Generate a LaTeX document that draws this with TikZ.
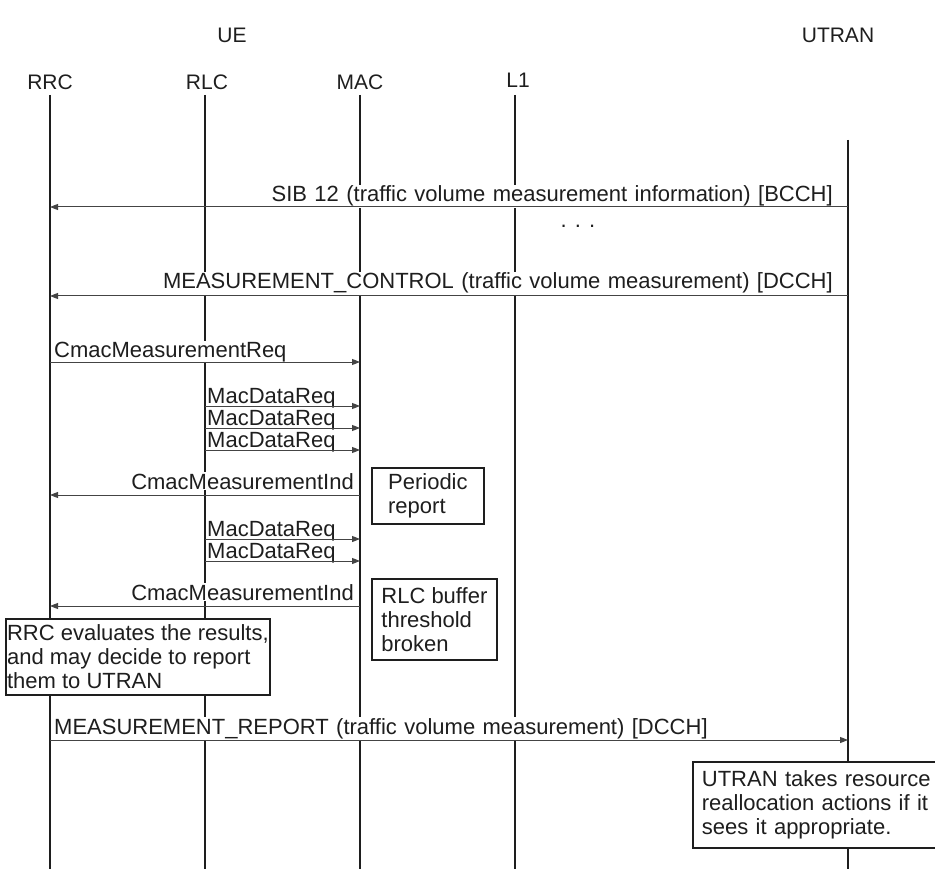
\documentclass[tikz,border=0pt]{standalone}
\usepackage{fontspec}
\setmainfont{Liberation Sans}
\usetikzlibrary{arrows.meta}
\definecolor{ink}{HTML}{1E1E1E}
\definecolor{wire}{HTML}{444444}
\begin{document}
\begin{tikzpicture}[x=1pt,y=-1pt,
  every node/.style={font=\fontsize{22}{24}\selectfont, text=ink},
  head/.style={font=\fontsize{21}{24}\selectfont},
  lifeline/.style={draw=ink, line width=2.6pt},
  msg/.style={draw=wire, line width=1pt, -{Triangle[length=8pt,width=6pt]}},
  lbl/.style={fill=white, inner xsep=1pt, inner ysep=1pt,
              execute at begin node={\spaceskip=7.4pt plus 1pt}},
  note/.style={draw=ink, line width=1.8pt, fill=white, align=left,
               anchor=north west, inner ysep=0pt, inner xsep=0pt}]
\useasboundingbox (0,0) rectangle (935,869);

% lifeline x positions
\def\xRRC{50}\def\xRLC{205}\def\xMAC{360}\def\xLI{515}\def\xUT{848}

% entity headers
\node[head] (ue) at (232,35) {UE};
\node[head] (utran) at (838,35) {UTRAN};
\node[head] (rrc) at (\xRRC,82) {RRC};
\node[head] (rlc) at (207,82) {RLC};
\node[head] (mac) at (\xMAC,82) {MAC};
\node[head] (l1) at (518,80) {L1};

% lifelines
\foreach \n/\x/\t in {rrc/\xRRC/95, rlc/\xRLC/95, mac/\xMAC/95, l1/\xLI/95, ut/\xUT/140} {
  \coordinate (\n-top) at (\x,\t);
  \coordinate (\n-bot) at (\x,875);
  \draw[lifeline] (\n-top) -- (\n-bot);
}

% message end points
\coordinate (sib-a) at (\xUT,207);  \coordinate (sib-b) at (\xRRC,207);
\coordinate (mc-a)  at (\xUT,296);  \coordinate (mc-b)  at (\xRRC,296);
\coordinate (req-a) at (\xRRC,362); \coordinate (req-b) at (\xMAC,362);
\foreach \k/\y in {1/406, 2/428, 3/450, 4/539, 5/561} {
  \coordinate (dr\k-a) at (\xRLC,\y); \coordinate (dr\k-b) at (\xMAC,\y);
}
\coordinate (ind1-a) at (\xMAC,495); \coordinate (ind1-b) at (\xRRC,495);
\coordinate (ind2-a) at (\xMAC,606); \coordinate (ind2-b) at (\xRRC,606);
\coordinate (rep-a)  at (\xRRC,740); \coordinate (rep-b)  at (\xUT,740);

% message labels
\node[lbl, anchor=base east] (sib-l) at (834,202)
  {SIB 12 (traffic volume measurement information) [BCCH]};
\node (dots) at (578,226) {. . .};
\node[lbl, anchor=base east] (mc-l) at (834,289)
  {MEASUREMENT\_CONTROL (traffic volume measurement) [DCCH]};
\node[lbl, anchor=base west] (req-l) at (53,357) {CmacMeasurementReq};
\foreach \k/\y in {1/406, 2/428, 3/450, 4/539, 5/561} {
  \node[anchor=base west, inner sep=0pt] (dr\k-l) at (207,\y-3) {MacDataReq};
}
\node[lbl, anchor=base east] (ind1-l) at (355,489) {CmacMeasurementInd};
\node[lbl, anchor=base east] (ind2-l) at (355,600) {CmacMeasurementInd};
\node[lbl, anchor=base west] (rep-l) at (53,734)
  {MEASUREMENT\_REPORT (traffic volume measurement) [DCCH]};

% messages
\draw[msg] (sib-a) -- (sib-b);
\draw[msg] (mc-a) -- (mc-b);
\draw[msg] (req-a) -- (req-b);
\foreach \k in {1,...,5} { \draw[msg] (dr\k-a) -- (dr\k-b); }
\draw[msg] (ind1-a) -- (ind1-b);
\draw[msg] (ind2-a) -- (ind2-b);
\draw[msg] (rep-a) -- (rep-b);

% notes
\node[note, minimum width=112pt, minimum height=56pt] (periodic)
  at (371,467) {Periodic\\report};
\node[note, minimum width=125pt, minimum height=81pt] (rlcbuf)
  at (371,578) {RLC buffer\\threshold\\broken};
\node[note, minimum width=264pt, minimum height=76pt] (rrceval)
  at (5,618) {RRC evaluates the results,\\and may decide to report\\them to UTRAN};
\node[note, text width=245pt, inner xsep=9pt, minimum height=86pt] (utranact)
  at (692,761) {UTRAN takes resource\\reallocation actions if it\\sees it appropriate.};
\end{tikzpicture}
\end{document}
